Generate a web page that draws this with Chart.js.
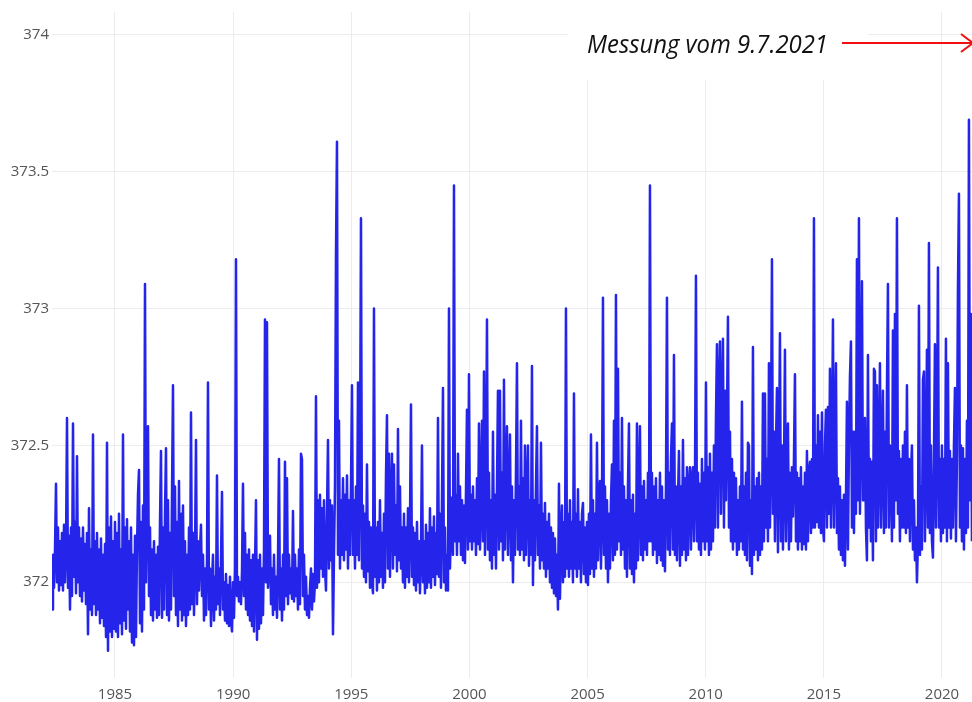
<!DOCTYPE html>
<html>
<head>
<meta charset="utf-8">
<script src="https://cdn.jsdelivr.net/npm/chart.js@4.4.1/dist/chart.umd.min.js"></script>
<style>
  body { margin: 0; background: #fff; }
</style>
</head>
<body>
<canvas id="levelChart" width="972" height="702"></canvas>
<script>
// readings, roughly two per month, first one in spring 1982
const firstReading = 1982.334;
const readingsPerYear = 23.63;

const levels1982to1994 = [
  371.9, 372.1, 371.98, 372.12, 372.36, 372.0, 372.2, 371.97, 372.15, 371.99, 372.18, 371.97, 372.21, 372.0, 372.12, 372.6,
  371.98, 372.17, 371.9, 372.2, 371.95, 372.58, 372.02, 372.22, 371.96, 372.46, 372.0, 372.2, 371.95, 372.16, 371.93, 372.2, 371.97, 372.14, 371.92, 372.18, 371.81, 372.27, 371.9, 372.12,
  371.88, 372.54, 371.92, 372.15, 371.88, 372.18, 371.9, 372.12, 371.85, 372.16, 371.87, 372.1, 371.84, 372.14, 371.8, 372.51, 371.75, 372.2, 371.82, 372.24, 371.8, 372.15, 371.83, 372.22,
  371.82, 372.18, 371.8, 372.25, 371.85, 372.12, 371.81, 372.54, 371.86, 372.2, 371.83, 372.23, 371.9, 372.15, 371.82, 372.2, 371.78, 372.1, 371.77, 372.17, 371.8, 372.12, 372.32, 372.41,
  371.85, 372.22, 371.82, 372.28, 371.9, 373.09, 372.0, 372.3, 372.57, 371.95, 372.2, 371.88, 372.12, 371.86, 372.15, 371.9, 372.1, 371.87, 372.13, 371.88, 372.22, 372.48, 371.87, 372.2,
  371.9, 372.25, 372.49, 371.88, 372.3, 371.86, 372.18, 371.9, 372.32, 372.72, 371.95, 372.35, 371.88, 372.22, 371.84, 372.37, 371.9, 372.25, 371.86, 372.28, 371.88, 372.15, 371.84, 372.1,
  371.88, 372.2, 371.9, 372.62, 371.92, 372.18, 371.88, 372.1, 372.52, 371.92, 372.15, 371.97, 372.12, 372.21, 371.95, 372.1, 371.86, 372.05, 371.88, 372.08, 372.73, 371.9, 372.05, 371.84,
  372.0, 372.1, 371.86, 372.02, 371.9, 372.39, 371.92, 372.05, 371.88, 372.08, 372.33, 371.9, 372.0, 371.86, 372.03, 371.85, 371.99, 371.84, 372.02, 371.86, 371.82, 372.0, 371.87, 372.05,
  373.18, 371.95, 372.02, 371.93, 372.0, 371.92, 372.04, 372.36, 371.95, 372.18, 371.9, 372.1, 371.88, 372.12, 371.86, 372.08, 371.84, 372.1, 371.82, 372.05, 372.3, 371.79, 372.08, 371.83,
  372.1, 371.85, 372.05, 371.88, 372.12, 372.96, 372.0, 372.95, 371.98, 372.1, 372.17, 371.92, 372.05, 371.88, 372.1, 371.9, 372.02, 371.87, 372.08, 372.45, 371.9, 372.05, 371.86, 372.1,
  371.9, 372.44, 371.95, 372.38, 371.92, 372.1, 371.96, 372.05, 371.94, 372.26, 371.93, 372.1, 371.95, 372.05, 371.9, 372.12, 371.92, 372.47, 372.45, 371.95, 372.1, 371.9, 372.02, 371.88,
  371.95, 371.87, 371.98, 372.05, 371.9, 372.03, 371.93, 372.0, 372.68, 371.98, 372.3, 372.0, 372.32, 372.05, 372.27, 372.02, 372.3, 372.05, 371.97, 372.25, 372.52, 372.05, 372.3, 372.08,
  372.28, 371.81, 372.1, 372.35, 373.2, 373.61, 372.1, 372.59, 372.05, 372.3, 372.1, 372.38, 372.08, 372.32, 372.12, 372.39, 372.05, 372.3, 372.1, 372.35
];

const levels1995to2004 = [
  372.72, 372.1, 372.3, 372.05, 372.35, 372.1, 372.73, 372.08, 372.4, 373.33, 372.05, 372.28, 372.02, 372.25, 372.0, 372.43, 372.04, 372.22, 371.98, 372.2, 372.0, 371.96, 373.0, 372.02,
  372.2, 371.97, 372.22, 372.0, 372.3, 372.02, 372.18, 371.98, 372.25, 372.0, 372.39, 372.61, 372.05, 372.47, 372.02, 372.3, 372.47, 372.05, 372.43, 372.1, 372.28, 372.04, 372.56, 372.08,
  372.35, 372.05, 372.2, 372.0, 372.25, 371.98, 372.2, 372.02, 372.27, 372.0, 372.22, 372.65, 372.02, 372.2, 371.99, 372.18, 371.97, 372.22, 372.0, 372.15, 371.96, 372.12, 372.5, 372.0,
  372.15, 371.96, 372.21, 371.98, 372.18, 372.0, 372.27, 371.98, 372.2, 372.02, 372.24, 371.99, 372.18, 372.03, 372.6, 372.02, 372.25, 371.98, 372.3, 372.71, 372.0, 372.2, 371.97, 372.1,
  371.97, 373.0, 372.05, 372.2, 372.31, 372.1, 373.45, 372.15, 372.32, 372.1, 372.47, 372.15, 372.35, 372.1, 372.3, 372.08, 372.28, 372.07, 372.33, 372.63, 372.12, 372.76, 372.15, 372.32,
  372.12, 372.35, 372.15, 372.3, 372.1, 372.38, 372.14, 372.58, 372.12, 372.3, 372.59, 372.15, 372.77, 372.1, 372.35, 372.96, 372.12, 372.4, 372.08, 372.3, 372.05, 372.55, 372.1, 372.32,
  372.05, 372.35, 372.7, 372.12, 372.7, 372.15, 372.4, 372.08, 372.74, 372.12, 372.38, 372.57, 372.1, 372.3, 372.54, 372.08, 372.35, 372.0, 372.3, 372.1, 372.4, 372.8, 372.12, 372.35,
  372.1, 372.59, 372.12, 372.38, 372.08, 372.5, 372.1, 372.32, 372.5, 372.06, 372.3, 372.1, 372.79, 371.99, 372.3, 372.08, 372.35, 372.57, 372.1, 372.28, 372.05, 372.51, 372.08, 372.25,
  372.05, 372.29, 372.02, 372.22, 372.05, 372.25, 372.0, 372.2, 371.98, 372.18, 371.96, 372.16, 371.95, 372.1, 371.9, 372.36, 371.94, 372.15, 372.28, 372.0, 372.22, 372.02, 373.0, 372.05,
  372.25, 372.02, 372.3, 372.05, 372.22, 372.0, 372.69, 372.05, 372.25, 372.02, 372.34, 372.05, 372.22, 372.0, 372.25, 372.29, 372.03, 372.2, 372.0, 372.22, 371.99, 372.25, 372.03, 372.54
];

const levels2005to2014 = [
  372.05, 372.3, 372.02, 372.25, 372.05, 372.51, 372.08, 372.3, 372.37, 372.05, 372.28, 373.04, 372.1, 372.35, 372.05, 372.3, 372.0, 372.25, 372.05, 372.3, 372.43, 372.08, 372.59, 372.1,
  373.05, 372.12, 372.78, 372.15, 372.4, 372.1, 372.6, 372.12, 372.35, 372.05, 372.3, 372.02, 372.35, 372.58, 372.05, 372.3, 372.03, 372.32, 372.0, 372.25, 372.05, 372.58, 372.08, 372.3,
  372.57, 372.1, 372.35, 372.08, 372.37, 372.12, 372.3, 372.1, 372.4, 372.15, 373.45, 372.15, 372.4, 372.1, 372.35, 372.12, 372.38, 372.07, 372.3, 372.1, 372.4, 372.08, 372.35, 372.06,
  372.3, 372.04, 372.35, 373.04, 372.12, 372.4, 372.1, 372.45, 372.58, 372.12, 372.83, 372.1, 372.35, 372.08, 372.3, 372.48, 372.06, 372.35, 372.1, 372.52, 372.12, 372.38, 372.08, 372.42,
  372.1, 372.35, 372.42, 372.12, 372.38, 372.42, 372.15, 372.35, 373.12, 372.15, 372.4, 372.12, 372.36, 372.1, 372.45, 372.15, 372.4, 372.12, 372.73, 372.15, 372.42, 372.1, 372.47, 372.12,
  372.4, 372.15, 372.5, 372.2, 372.6, 372.87, 372.2, 372.7, 372.88, 372.25, 372.65, 372.89, 372.2, 372.7, 372.3, 372.6, 372.97, 372.2, 372.55, 372.15, 372.45, 372.12, 372.4, 372.15,
  372.38, 372.1, 372.3, 372.12, 372.35, 372.15, 372.66, 372.12, 372.35, 372.1, 372.4, 372.08, 372.51, 372.5, 372.06, 372.3, 372.03, 372.86, 372.1, 372.35, 372.12, 372.38, 372.08, 372.4,
  372.1, 372.35, 372.12, 372.69, 372.15, 372.69, 372.2, 372.45, 372.15, 372.8, 372.2, 372.5, 373.18, 372.25, 372.55, 372.15, 372.5, 372.71, 372.11, 372.45, 372.91, 372.15, 372.5, 372.12,
  372.4, 372.85, 372.15, 372.45, 372.58, 372.12, 372.4, 372.15, 372.42, 372.24, 372.45, 372.76, 372.15, 372.4, 372.12, 372.38, 372.15, 372.42, 372.12, 372.35, 372.14, 372.4, 372.12, 372.48,
  372.15, 372.4, 372.44, 372.18, 372.45, 372.2, 373.33, 372.2, 372.5, 372.22, 372.61, 372.2, 372.55, 372.18, 372.62, 372.2, 372.15, 372.5, 372.63, 372.2, 372.64, 372.25, 372.78, 372.2
];

const levels2015to2021 = [
  372.45, 372.96, 372.2, 372.5, 372.8, 372.18, 372.38, 372.12, 372.35, 372.1, 372.3, 372.08, 372.32, 372.06, 372.3, 372.66, 372.12, 372.5, 372.75, 372.88, 372.2, 372.55, 372.18, 372.55,
  372.25, 373.18, 372.3, 373.33, 372.25, 372.6, 373.1, 372.3, 372.3, 372.6, 372.2, 372.08, 372.83, 372.2, 372.45, 372.15, 372.44, 372.08, 372.78, 372.77, 372.15, 372.72, 372.2, 372.45,
  372.8, 372.2, 372.45, 372.7, 372.18, 372.55, 372.2, 372.7, 373.09, 372.2, 372.5, 372.44, 372.15, 372.92, 372.2, 372.98, 372.3, 373.33, 372.25, 372.48, 372.15, 372.45, 372.2, 372.5,
  372.2, 372.55, 372.18, 372.72, 372.2, 372.45, 372.15, 372.4, 372.5, 372.12, 372.3, 372.08, 372.2, 372.0, 372.15, 373.01, 372.1, 372.35, 372.12, 372.74, 372.77, 372.15, 372.45, 372.85,
  372.2, 373.24, 372.18, 372.5, 372.15, 372.09, 372.45, 372.87, 372.2, 372.5, 373.15, 372.2, 372.45, 372.15, 372.5, 372.18, 372.45, 372.2, 372.89, 372.15, 372.8, 372.2, 372.48, 372.16,
  372.45, 372.2, 372.5, 372.71, 372.15, 372.45, 373.07, 373.42, 372.2, 372.5, 372.15, 372.49, 372.12, 372.45, 372.18, 372.59, 372.2, 373.69, 372.3, 372.98, 372.15
];

const xTicks = [1985, 1990, 1995, 2000, 2005, 2010, 2015, 2020];
const yTicks = [372, 372.5, 373, 373.5, 374];
const calloutText = 'Messung vom 9.7.2021';

const lineColor = 'rgb(36,36,234)';
const gridColor = '#ececec';
const tickFont = { family: '"Open Sans", sans-serif', size: 15 };

const levels = levels1982to1994.concat(levels1995to2004, levels2005to2014, levels2015to2021);
const points = levels.map((v, i) => ({ x: firstReading + i / readingsPerYear, y: v }));

// white box behind the note, red arrow pointing to the newest reading
const calloutPlugin = {
  id: 'callout',
  beforeDatasetsDraw(chart) {
    const c = chart.ctx;
    c.save();
    c.fillStyle = '#fff';
    c.fillRect(568, 0, 300, 80);
    c.restore();
  },
  afterDraw(chart) {
    const c = chart.ctx;
    c.save();
    c.font = 'italic 25px "Open Sans", sans-serif';
    c.fillStyle = '#111';
    c.textBaseline = 'alphabetic';
    const w = c.measureText(calloutText).width;
    c.translate(587, 53);
    c.scale(241 / w, 1);
    c.fillText(calloutText, 0, 0);
    c.restore();

    c.save();
    c.strokeStyle = '#f01010';
    c.lineWidth = 2;
    c.beginPath();
    c.moveTo(842, 43);
    c.lineTo(972, 43);
    c.moveTo(961, 34);
    c.lineTo(973, 43);
    c.lineTo(961, 52);
    c.stroke();
    c.restore();
  }
};

const ctx = document.getElementById('levelChart').getContext('2d');
const levelChart = new Chart(ctx, {
  type: 'line',
  data: {
    datasets: [{
      data: points,
      borderColor: lineColor,
      borderWidth: 2.5,
      borderJoinStyle: 'round',
      pointRadius: 0,
      tension: 0,
      fill: false
    }]
  },
  options: {
    responsive: false,
    animation: false,
    layout: { padding: { top: 10, right: 0, left: 0, bottom: 0 } },
    plugins: {
      legend: { display: false },
      tooltip: { enabled: false }
    },
    scales: {
      x: {
        type: 'linear',
        min: firstReading,
        max: 2021.27,
        border: { display: false },
        grid: { color: gridColor, drawTicks: false },
        ticks: { color: '#555', font: tickFont, padding: 8, maxRotation: 0, autoSkip: false, callback: v => String(v) },
        afterBuildTicks: s => { s.ticks = xTicks.map(v => ({ value: v })); },
        afterFit: s => { s.height = 24; }
      },
      y: {
        min: 371.65,
        max: 374.084,
        border: { display: false },
        grid: { color: gridColor, drawTicks: false },
        ticks: { color: '#555', font: tickFont, padding: 3, callback: v => String(v) },
        afterBuildTicks: s => { s.ticks = yTicks.map(v => ({ value: v })); },
        afterFit: s => { s.width = 52; }
      }
    }
  },
  plugins: [calloutPlugin]
});
</script>
</body>
</html>
